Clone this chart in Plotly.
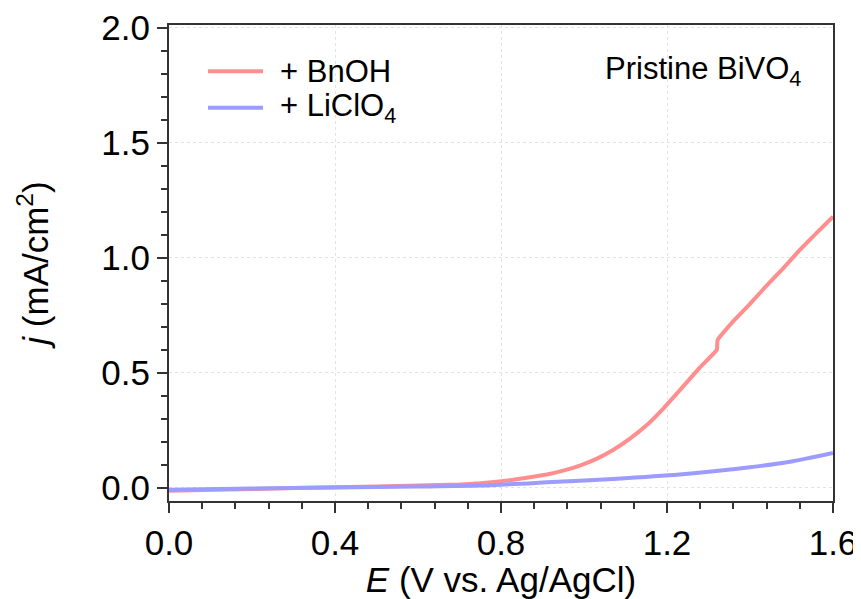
import plotly.graph_objects as go

# Potential (V vs. Ag/AgCl) and current density (mA/cm^2)
E_bnoh = [0.0, 0.2, 0.4, 0.6, 0.7, 0.75, 0.83, 0.91, 0.95, 0.99, 1.03, 1.07, 1.11, 1.15, 1.19,
          1.23, 1.28, 1.32, 1.322, 1.36, 1.40, 1.44, 1.48, 1.52, 1.56, 1.6]
j_bnoh = [-0.012, -0.005, 0.003, 0.010, 0.015, 0.020, 0.035, 0.058, 0.075, 0.097, 0.126, 0.165,
          0.213, 0.271, 0.343, 0.423, 0.525, 0.600, 0.643, 0.725, 0.800, 0.880, 0.955, 1.035, 1.108, 1.180]

E_liclo4 = [0.0, 0.2, 0.4, 0.6, 0.75, 0.91, 1.07, 1.23, 1.4, 1.5, 1.6]
j_liclo4 = [-0.008, -0.003, 0.002, 0.006, 0.010, 0.024, 0.039, 0.058, 0.090, 0.115, 0.152]

series_names = ["+ BnOH", "+ LiClO<sub>4</sub>"]
x_ticks = [0.0, 0.4, 0.8, 1.2, 1.6]
y_ticks = [0.0, 0.5, 1.0, 1.5, 2.0]

red = "#FF8F8F"
blue = "#9C9CFF"
font_family = "Liberation Sans, Arial, sans-serif"

fig = go.Figure()
fig.add_trace(go.Scatter(x=E_bnoh, y=j_bnoh, mode="lines", name=series_names[0], showlegend=False,
                         line=dict(color=red, width=4, shape="spline", smoothing=0.3)))
fig.add_trace(go.Scatter(x=E_liclo4, y=j_liclo4, mode="lines", name=series_names[1], showlegend=False,
                         line=dict(color=blue, width=4, shape="spline", smoothing=0.6)))

axis_common = dict(
    showline=True, mirror=True, linecolor="#333333", linewidth=2,
    ticks="outside", ticklen=10, tickwidth=2, tickcolor="#333333",
    showgrid=True, gridcolor="#e3e3e3", griddash="dot", gridwidth=1,
    zeroline=False, automargin=False,
    tickfont=dict(size=35, color="black", family=font_family),
)

fig.update_xaxes(
    range=[0, 1.6], tickmode="array", tickvals=x_ticks, ticktext=[f"{v:.1f}" for v in x_ticks],
    minor=dict(ticks="outside", ticklen=6, tickwidth=2, tickcolor="#333333", dtick=0.08, showgrid=False),
    title=dict(text="<i>E</i> (V vs. Ag/AgCl)", font=dict(size=35, color="black", family=font_family), standoff=2),
    **axis_common,
)
fig.update_yaxes(
    range=[-0.057, 2.013], tickmode="array", tickvals=y_ticks, ticktext=[f"{v:.1f}" for v in y_ticks],
    minor=dict(ticks="outside", ticklen=6, tickwidth=2, tickcolor="#333333", dtick=0.1, showgrid=False),
    title=dict(text="<i>j</i> (mA/cm<sup>2</sup>)", font=dict(size=35, color="black", family=font_family), standoff=42),
    **axis_common,
)

# Legend (drawn manually to match the long legend lines of the reference)
legend_rows = [(0.903, red, series_names[0]), (0.826, blue, series_names[1])]
for ypos, col, name in legend_rows:
    fig.add_shape(type="line", xref="paper", yref="paper", x0=0.0587, x1=0.1416, y0=ypos, y1=ypos,
                  line=dict(color=col, width=4))
    fig.add_annotation(x=0.164, y=ypos, xref="paper", yref="paper", xanchor="left", yanchor="middle",
                       text=name, showarrow=False, font=dict(size=31, color="black", family=font_family))

fig.add_annotation(
    x=0.955, y=0.903, xref="paper", yref="paper", xanchor="right", yanchor="middle",
    text="Pristine BiVO<sub>4</sub>", showarrow=False,
    font=dict(size=31, color="black", family=font_family),
)

# The page places the figure 8 px from the window's top-left corner,
# so the figure is sized to fill the rest of the 861x599 window.
fig.update_layout(
    width=853, height=591,
    margin=dict(l=161, r=28, t=17, b=98),
    paper_bgcolor="white", plot_bgcolor="white",
    font=dict(family=font_family, color="black"),
    showlegend=False,
)

fig.write_html("out.html")
